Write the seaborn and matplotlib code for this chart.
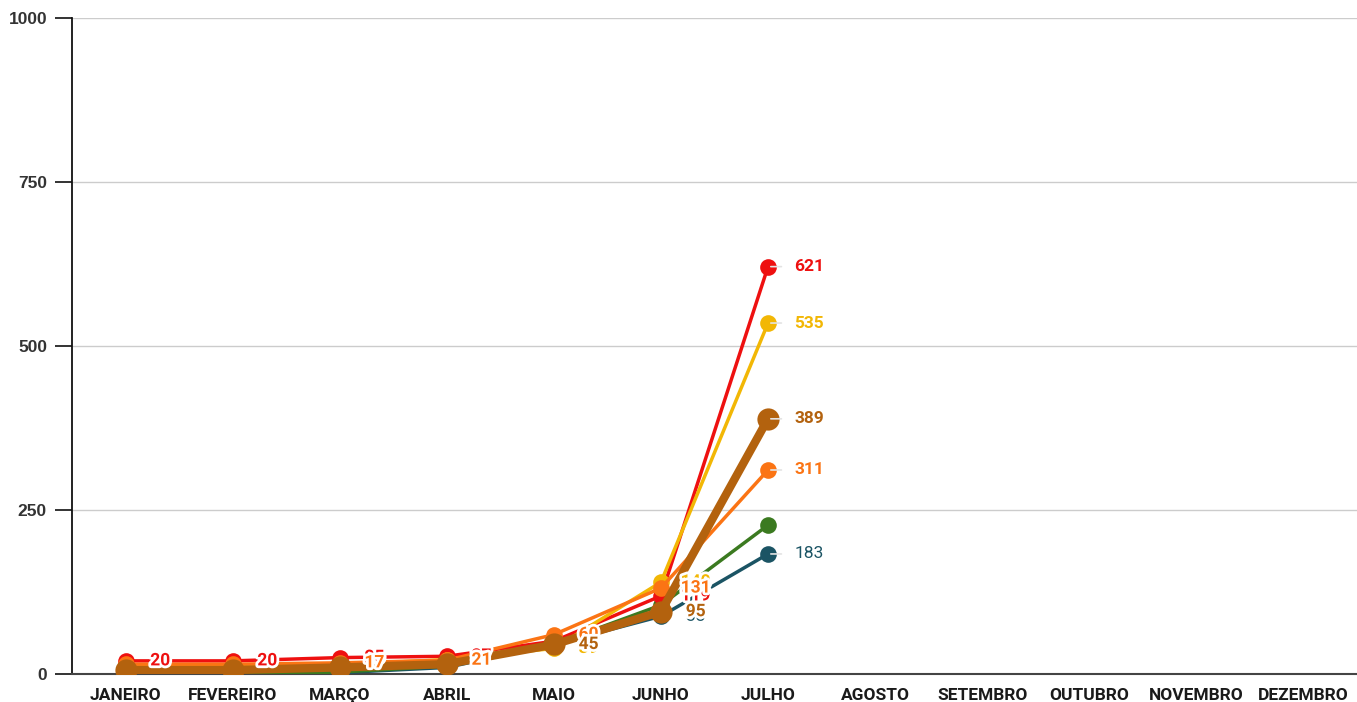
import matplotlib
matplotlib.use("Agg")
import matplotlib.pyplot as plt
import matplotlib.patheffects as pe
import seaborn as sns
import pandas as pd

months = ["JANEIRO", "FEVEREIRO", "MARÇO", "ABRIL", "MAIO", "JUNHO", "JULHO",
          "AGOSTO", "SETEMBRO", "OUTUBRO", "NOVEMBRO", "DEZEMBRO"]

red_vals = [20, 20, 25, 27, 50, 119, 621]
yellow_vals = [12, 12, 14, 22, 39, 140, 535]
brown_vals = [6, 6, 10, 15, 45, 95, 389]
orange_vals = [15, 15, 17, 21, 60, 131, 311]
green_vals = [0, 0, 3, 12, 45, 105, 227]
teal_vals = [0, 0, 2, 10, 45, 88, 183]

# which month indices show a value label (as visible in the reference)
red_lbl = [0, 1, 2, 3, 5, 6]
yellow_lbl = [4, 5, 6]
brown_lbl = [4, 5, 6]
orange_lbl = [2, 3, 4, 5, 6]
green_lbl = []
teal_lbl = [5, 6]

yticks = [0, 250, 500, 750, 1000]

series = [
    # name, values, color, linewidth, markersize, labels, bold
    ("teal", teal_vals, "#1b5464", 2.5, 12, teal_lbl, False),
    ("green", green_vals, "#3b7a20", 2.5, 12, green_lbl, True),
    ("red", red_vals, "#ee1010", 2.5, 12, red_lbl, True),
    ("yellow", yellow_vals, "#f2b705", 2.5, 12, yellow_lbl, True),
    ("orange", orange_vals, "#fb7414", 2.5, 12, orange_lbl, True),
    ("brown", brown_vals, "#b3620e", 6, 16, brown_lbl, True),
]

sns.set_theme(style="white")
plt.rcParams["font.family"] = ["Roboto", "DejaVu Sans"]

fig = plt.figure(figsize=(13.57, 7.02), dpi=100)
ax = fig.add_axes([72 / 1357, 28 / 702, 1 - 72 / 1357, (674 - 18) / 702])

for name, vals, color, lw, ms, lbl, bold in series:
    df = pd.DataFrame({"x": list(range(len(vals))), "y": vals})
    sns.lineplot(data=df, x="x", y="y", ax=ax, color=color, linewidth=lw,
                 marker="o", markersize=ms, markeredgewidth=0, zorder=3)

label_order = ["red", "yellow", "teal", "green", "orange", "brown"]
lookup = {s[0]: s for s in series}
last = len(red_vals) - 1
for name in label_order:
    _, vals, color, lw, ms, lbl, bold = lookup[name]
    for i in lbl:
        if i == last:
            ax.annotate(str(vals[i]), xy=(i, vals[i]), xytext=(19, 0),
                        textcoords="offset points", ha="left", va="center",
                        fontsize=12.5, color=color,
                        fontweight="bold" if bold else "normal",
                        arrowprops=dict(arrowstyle="-", color="#e3e3e3", lw=1.2,
                                        shrinkA=7, shrinkB=2),
                        zorder=6)
        else:
            t = ax.annotate(str(vals[i]), xy=(i, vals[i]), xytext=(25, 0),
                            textcoords="offset points", ha="center", va="center",
                            fontsize=12.5, color=color,
                            fontweight="bold" if bold else "normal", zorder=6)
            t.set_path_effects([pe.withStroke(linewidth=4, foreground="white")])

ax.set_xlim(-0.5, 11.5)
ax.set_ylim(0, 1000)
ax.set_xticks(range(len(months)))
ax.set_xticklabels(months, fontsize=12.5, fontweight="bold", color="#1a1a1a")
ax.set_yticks(yticks)
ax.set_yticklabels([str(v) for v in yticks], fontsize=12.5, fontweight="bold",
                   color="#333333", family=["Liberation Sans", "DejaVu Sans"])
ax.set_xlabel("")
ax.set_ylabel("")
ax.yaxis.grid(True, color="#cccccc", linewidth=1)
ax.xaxis.grid(False)
ax.set_axisbelow(True)
ax.tick_params(axis="x", length=0, pad=10)
ax.tick_params(axis="y", length=12, width=1.2, color="#111111", pad=6, left=True)
for s in ["top", "right"]:
    ax.spines[s].set_visible(False)
ax.spines["left"].set_color("#111111")
ax.spines["left"].set_linewidth(1.3)
ax.spines["bottom"].set_color("#444444")
ax.spines["bottom"].set_linewidth(1.5)
ax.spines["left"].set_zorder(2)

fig.savefig("out.png", dpi=100)
